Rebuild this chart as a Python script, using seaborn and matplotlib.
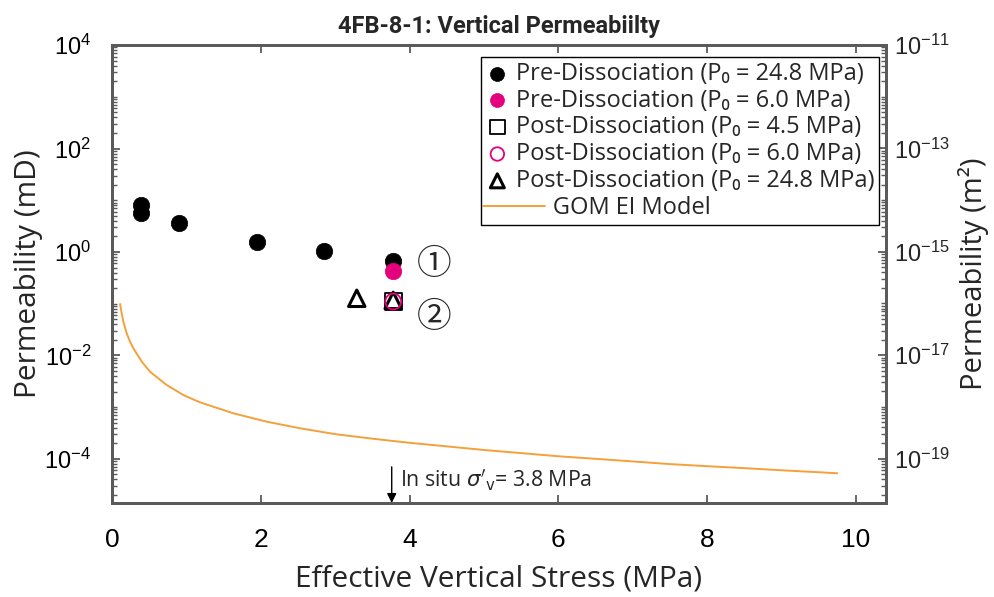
import numpy as np
import pandas as pd
import matplotlib
matplotlib.use("Agg")
import matplotlib.pyplot as plt
import matplotlib.ticker as mticker
from matplotlib.lines import Line2D
from matplotlib.legend_handler import HandlerBase
import seaborn as sns

# ---------------- data ----------------
pre_248_x = [0.39, 0.39, 0.90, 1.95, 2.85, 3.78]
pre_248_y = [8.1, 5.6, 3.7, 1.54, 1.06, 0.68]

pre_60_x = [3.78]
pre_60_y = [0.435]

post_45_x = [3.78]
post_45_y = [0.108]

post_60_x = [3.78]
post_60_y = [0.11]

post_248_x = [3.29, 3.78]
post_248_y = [0.127, 0.116]

gom_x = [0.108, 0.13, 0.152, 0.197, 0.242, 0.287, 0.40, 0.51, 0.735, 0.96,
         1.18, 1.63, 2.08, 2.53, 3.0, 3.5, 4.0, 4.5, 5.0, 5.5, 6.0, 6.5, 7.0,
         7.5, 8.0, 8.5, 9.0, 9.5, 9.75]
gom_y = [0.0986, 0.0652, 0.0449, 0.0267, 0.0184, 0.0137, 0.00755, 0.00484,
         0.00267, 0.00171, 0.00124, 0.00076, 0.000522, 0.000389, 0.00030,
         0.000245, 0.000204, 0.000174, 0.000148, 0.000129, 0.000112,
         0.000100, 0.000089, 0.000079, 0.000072, 0.000066, 0.000060,
         0.000055, 0.0000525]

x_ticks = [0, 2, 4, 6, 8, 10]
y_ticks_md = [1e-4, 1e-2, 1e0, 1e2, 1e4]
y_ticks_m2 = [1e-19, 1e-17, 1e-15, 1e-13, 1e-11]
MD_TO_M2 = 9.869233e-16

labels = ["Pre-Dissociation (P\u2080 = 24.8 MPa)",
          "Pre-Dissociation (P\u2080 = 6.0 MPa)",
          "Post-Dissociation (P\u2080 = 4.5 MPa)",
          "Post-Dissociation (P\u2080 = 6.0 MPa)",
          "Post-Dissociation (P\u2080 = 24.8 MPa)",
          "GOM EI Model"]

# ---------------- style ----------------
sns.set_style("ticks")
plt.rcParams["font.family"] = ["Liberation Sans", "DejaVu Sans"]
plt.rcParams["mathtext.fontset"] = "dejavusans"

spine_c = "#5a5a5a"
pink = "#E5007D"
orange = "#F5A03C"
lab_font = ["Open Sans", "DejaVu Sans"]

fig = plt.figure(figsize=(9.94, 5.97), dpi=100)
ax = fig.add_axes([0.1127, 0.1575, 0.7783, 0.767])

sns.lineplot(x=gom_x, y=gom_y, ax=ax, color=orange, linewidth=1.4,
             label=labels[5], zorder=2, sort=False)
sns.scatterplot(x=pre_248_x, y=pre_248_y, ax=ax, marker="o", s=140,
                color="black", edgecolor="black", linewidth=0.5,
                label=labels[0], zorder=3)
sns.scatterplot(x=pre_60_x, y=pre_60_y, ax=ax, marker="o", s=140,
                color=pink, edgecolor=pink, linewidth=0.5,
                label=labels[1], zorder=4)
sns.scatterplot(x=post_45_x, y=post_45_y, ax=ax, marker="s", s=150,
                facecolor="none", edgecolor="black", linewidth=1.3,
                label=labels[2], zorder=3)
sns.scatterplot(x=post_60_x, y=post_60_y, ax=ax, marker="o", s=130,
                facecolor="none", edgecolor=pink, linewidth=1.3,
                label=labels[3], zorder=5)
sns.scatterplot(x=post_248_x, y=post_248_y, ax=ax, marker="^", s=140,
                facecolor="none", edgecolor="black", linewidth=2.2,
                label=labels[4], zorder=4)

ax.set_yscale("log")
ax.set_xlim(0, 10.4)
ylo, yhi = 1.4e-5, 1e4
ax.set_ylim(ylo, yhi)
ax.set_xticks(x_ticks)
ax.set_yticks(y_ticks_md)
ax.yaxis.set_major_formatter(mticker.LogFormatterSciNotation())
ax.yaxis.set_minor_locator(mticker.LogLocator(base=10, subs=np.arange(1, 10), numticks=30))
ax.yaxis.set_minor_formatter(mticker.NullFormatter())

ax.tick_params(axis="both", which="major", direction="in", length=6, width=1.3,
               color=spine_c, labelcolor="black", top=True)
ax.tick_params(axis="x", labelsize=19, pad=18)
ax.tick_params(axis="y", labelsize=17, pad=15)
ax.tick_params(axis="y", which="minor", direction="in", length=3.5, width=1.0,
               color=spine_c)
for s in ax.spines.values():
    s.set_color(spine_c)
    s.set_linewidth(2)

ax.set_xlabel("Effective Vertical Stress (MPa)", fontsize=21.5, family=lab_font, labelpad=9)
ax.set_ylabel("Permeability (mD)", fontsize=21.5, family=lab_font, labelpad=1)
ax.set_title("4FB-8-1: Vertical Permeabiilty", fontsize=17, fontweight="bold",
             family=["Roboto", "Liberation Sans"], pad=9)

# right axis in m^2
ax2 = ax.twinx()
ax2.set_yscale("log")
ax2.set_ylim(ylo * MD_TO_M2, yhi * MD_TO_M2)
ax2.set_yticks(y_ticks_m2)
ax2.yaxis.set_major_formatter(mticker.LogFormatterSciNotation())
ax2.yaxis.set_minor_locator(mticker.LogLocator(base=10, subs=np.arange(1, 10), numticks=40))
ax2.yaxis.set_minor_formatter(mticker.NullFormatter())
ax2.tick_params(axis="y", which="major", direction="in", length=6, width=1.3,
                color=spine_c, labelsize=17, pad=6)
ax2.tick_params(axis="y", which="minor", direction="in", length=3.5, width=1.0,
                color=spine_c)
for s in ax2.spines.values():
    s.set_color(spine_c)
    s.set_linewidth(2)
ax2.set_ylabel("Permeability (m\u00b2)", fontsize=21, family=lab_font, labelpad=6)

# annotations
circ_font = ["Noto Sans CJK JP", "DejaVu Sans"]
ax.text(4.33, 0.56, "\u2460", fontsize=25, family=circ_font, ha="center", va="center")
ax.text(4.33, 0.053, "\u2461", fontsize=25, family=circ_font, ha="center", va="center")
ax.annotate("", xy=(3.76, ylo), xytext=(3.76, 7e-5),
            arrowprops=dict(arrowstyle="-|>", color="black", lw=1.0,
                            mutation_scale=14, shrinkA=0, shrinkB=0))
ax.text(3.87, 3.9e-5, r"In situ $\sigma'_{\mathrm{v}}$= 3.8 MPa", fontsize=15.3,
        family=lab_font, ha="left", va="center")


class LongLine(HandlerBase):
    def create_artists(self, legend, orig_handle, xdescent, ydescent,
                       width, height, fontsize, trans):
        y = height / 2.0 - ydescent
        ln = Line2D([-xdescent - 0.1 * width, -xdescent + 2.5 * width], [y, y],
                    color=orig_handle.get_color(), lw=orig_handle.get_linewidth())
        ln.set_transform(trans)
        return [ln]


# legend
h, l = ax.get_legend_handles_labels()
pairs = sorted(zip([labels.index(x) for x in l], h, l), key=lambda p: p[0])
hs = [p[1] for p in pairs]
ls = [p[2] for p in pairs]
ls[-1] = "      " + ls[-1]
leg = ax.legend(hs, ls, loc="upper right", bbox_to_anchor=(0.992, 0.974),
                frameon=True, fancybox=False, edgecolor="black", framealpha=1,
                borderpad=0.2, labelspacing=0.12, handlelength=1.0,
                handletextpad=0.3, borderaxespad=0.0,
                prop={"family": lab_font, "size": 17}, markerscale=0.85,
                handler_map={hs[-1]: LongLine()})
leg.get_frame().set_linewidth(1.0)
ax2.set_zorder(-1)
ax.patch.set_visible(False)

fig.savefig("out.png", dpi=100)
